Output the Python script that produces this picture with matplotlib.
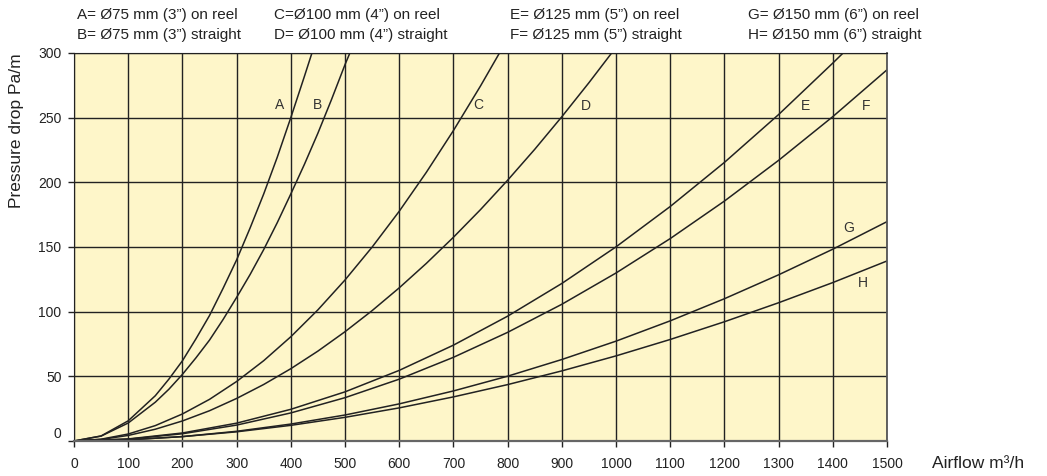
import numpy as np
import matplotlib.pyplot as plt

# Airflow (m3/h) and pressure drop (Pa/m)
qA = [0, 50, 100, 150, 175, 200, 225, 250, 275, 300, 325, 350, 375, 400, 425, 439]
pA = [0, 3.9, 15.6, 35, 47.8, 62, 79, 97, 118, 140, 164.8, 191, 219.4, 250, 281.8, 300]

qB = [0, 50, 100, 150, 175, 200, 225, 250, 275, 300, 325, 350, 375, 400, 425, 450, 475, 500, 509]
pB = [0, 3.8, 13.9, 30, 40, 51.5, 64.3, 78, 93.9, 111, 128.8, 148, 168.8, 191, 213.8, 238, 263.9, 291, 300]

qC = [0, 50, 100, 150, 200, 250, 300, 350, 400, 450, 500, 550, 600, 650, 700, 750, 785]
pC = [0, 1.4, 5.4, 11.9, 20.9, 32.2, 46, 62.1, 80.6, 101.4, 124.5, 149.9, 177.6, 207.7, 240, 274.5, 300]

qD = [0, 50, 100, 150, 200, 250, 300, 350, 400, 450, 500, 550, 600, 650, 700, 750, 800, 850, 900, 950, 992]
pD = [0, 1.2, 4.3, 9.1, 15.5, 23.4, 32.9, 43.7, 55.9, 69.5, 84.5, 100.8, 118.4, 137.3, 157.5, 178.9, 201.6, 225.5, 250.7, 277, 300]

qE = [0, 100, 200, 300, 400, 500, 600, 700, 800, 900, 1000, 1100, 1200, 1300, 1400, 1419]
pE = [0, 1.6, 6.2, 13.8, 24.5, 38, 54.6, 74.1, 96.5, 121.8, 150.1, 181.3, 215.4, 252.4, 292.2, 300]

qFGH = [0, 100, 200, 300, 400, 500, 600, 700, 800, 900, 1000, 1100, 1200, 1300, 1400, 1500]
pF = [0, 1.4, 5.6, 12.3, 21.7, 33.5, 47.8, 64.7, 84, 105.7, 129.9, 156.5, 185.5, 217, 250.8, 287]
pG = [0, 0.9, 3.4, 7.5, 13.1, 20.1, 28.7, 38.7, 50.1, 63, 77.2, 92.9, 110, 128.5, 148.3, 169.6]
pH = [0, 0.9, 3.4, 7.1, 12.1, 18.3, 25.6, 34.1, 43.6, 54.2, 65.8, 78.5, 92.2, 106.9, 122.5, 139.2]

curve_names = ['A', 'B', 'C', 'D', 'E', 'F', 'G', 'H']
curve_q = [qA, qB, qC, qD, qE, qFGH, qFGH, qFGH]
curve_p = [pA, pB, pC, pD, pE, pF, pG, pH]
# where the letters sit
label_q = [380, 450, 746, 945, 1350, 1461, 1430, 1456]
label_p = [260, 260, 260, 259, 259, 259, 165, 122]

legend_lines = ['A= Ø75 mm (3”) on reel', 'B= Ø75 mm (3”) straight',
                'C=Ø100 mm (4”) on reel', 'D= Ø100 mm (4”) straight',
                'E= Ø125 mm (5”) on reel', 'F= Ø125 mm (5”) straight',
                'G= Ø150 mm (6”) on reel', 'H= Ø150 mm (6”) straight']
legend_x = [77, 274, 510, 748]

x_ticks = np.arange(0, 1501, 100)
y_ticks = np.arange(0, 301, 50)

## Plotting
plt.rcParams['font.family'] = ['Liberation Sans', 'DejaVu Sans']
ink = '#222222'
W, H = 1047, 476

fig = plt.figure(figsize=(W/100, H/100), dpi=100)
ax = fig.add_axes([74/W, 1-441/H, (887-74)/W, (441-53)/H])
ax.set_facecolor('#fef6c9')

for q, p in zip(curve_q, curve_p):
	ax.plot(q, p, color=ink, lw=1.1, solid_capstyle='butt', solid_joinstyle='round')
for name, lq, lp in zip(curve_names, label_q, label_p):
	ax.text(lq, lp, name, ha='center', va='center', fontsize=10, color='#333333',
	        family=['Liberation Sans Narrow', 'Liberation Sans', 'DejaVu Sans'])

ax.set_xlim(0, 1500)
ax.set_ylim(0, 300)
ax.set_xticks(x_ticks)
ax.set_yticks(y_ticks)
ax.grid(True, color=ink, lw=1.0)
ax.set_axisbelow(True)
ax.tick_params(axis='both', direction='out', length=4, width=1.0, color=ink,
               labelsize=10, labelcolor='#222222')
ax.tick_params(axis='x', pad=7.5)
ax.tick_params(axis='y', pad=5)
ax.get_yticklabels()[0].set_va('bottom')

ax.spines['top'].set_color(ink)
ax.spines['left'].set_color(ink)
ax.spines['right'].set_color('#555555')
ax.spines['right'].set_linewidth(1.3)
ax.spines['bottom'].set_color('#666666')
ax.spines['bottom'].set_linewidth(1.6)

# legend block above the plot, two lines per column
for i, x0 in enumerate(legend_x):
	fig.text(x0/W, 1-15.5/H, legend_lines[2*i], ha='left', va='center', fontsize=11, color='#222222')
	fig.text(x0/W, 1-35/H, legend_lines[2*i+1], ha='left', va='center', fontsize=11, color='#222222')

fig.text(17/W, 1-53/H, 'Pressure drop Pa/m', rotation=90, ha='center', va='top',
         fontsize=12.5, color='#222222')
fig.text(932/W, 1-463/H, 'Airflow m³/h', ha='left', va='center', fontsize=12.5, color='#222222')

plt.savefig('out.png', dpi=100)
